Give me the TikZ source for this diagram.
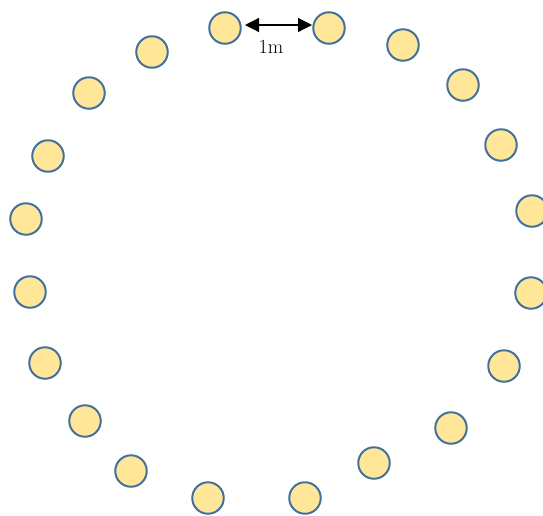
\documentclass[tikz,border=0pt]{standalone}
\usetikzlibrary{arrows.meta}
\definecolor{cfill}{HTML}{FFE699}
\definecolor{cline}{HTML}{41719C}
\begin{document}
\begin{tikzpicture}[x=1pt,y=-1pt,
  post/.style={circle,draw=cline,fill=cfill,line width=2pt,minimum size=31.5pt,inner sep=0pt},
  dim/.style={{Triangle[length=14pt,width=14pt]}-{Triangle[length=14pt,width=14pt]},line width=1.2pt}]
\useasboundingbox (0,0) rectangle (543,515);
\node[post] (p1) at (225,28) {};
\node[post] (p2) at (329,28) {};
\node[post] (p3) at (403,45) {};
\node[post] (p4) at (463,85) {};
\node[post] (p5) at (501,145) {};
\node[post] (p6) at (532,211) {};
\node[post] (p7) at (531,293) {};
\node[post] (p8) at (504,366) {};
\node[post] (p9) at (451,428) {};
\node[post] (p10) at (374,463) {};
\node[post] (p11) at (305,498) {};
\node[post] (p12) at (208,498) {};
\node[post] (p13) at (131,471) {};
\node[post] (p14) at (85,421) {};
\node[post] (p15) at (45,363) {};
\node[post] (p16) at (30,292) {};
\node[post] (p17) at (26,219) {};
\node[post] (p18) at (48,156) {};
\node[post] (p19) at (89,93) {};
\node[post] (p20) at (152,52) {};
\coordinate (a1) at (245,25);
\coordinate (a2) at (312,25);
\draw[dim] (a1) -- (a2);
\node[font=\fontsize{20}{24}\selectfont] (lbl) at (271,47) {1m};
\end{tikzpicture}
\end{document}
